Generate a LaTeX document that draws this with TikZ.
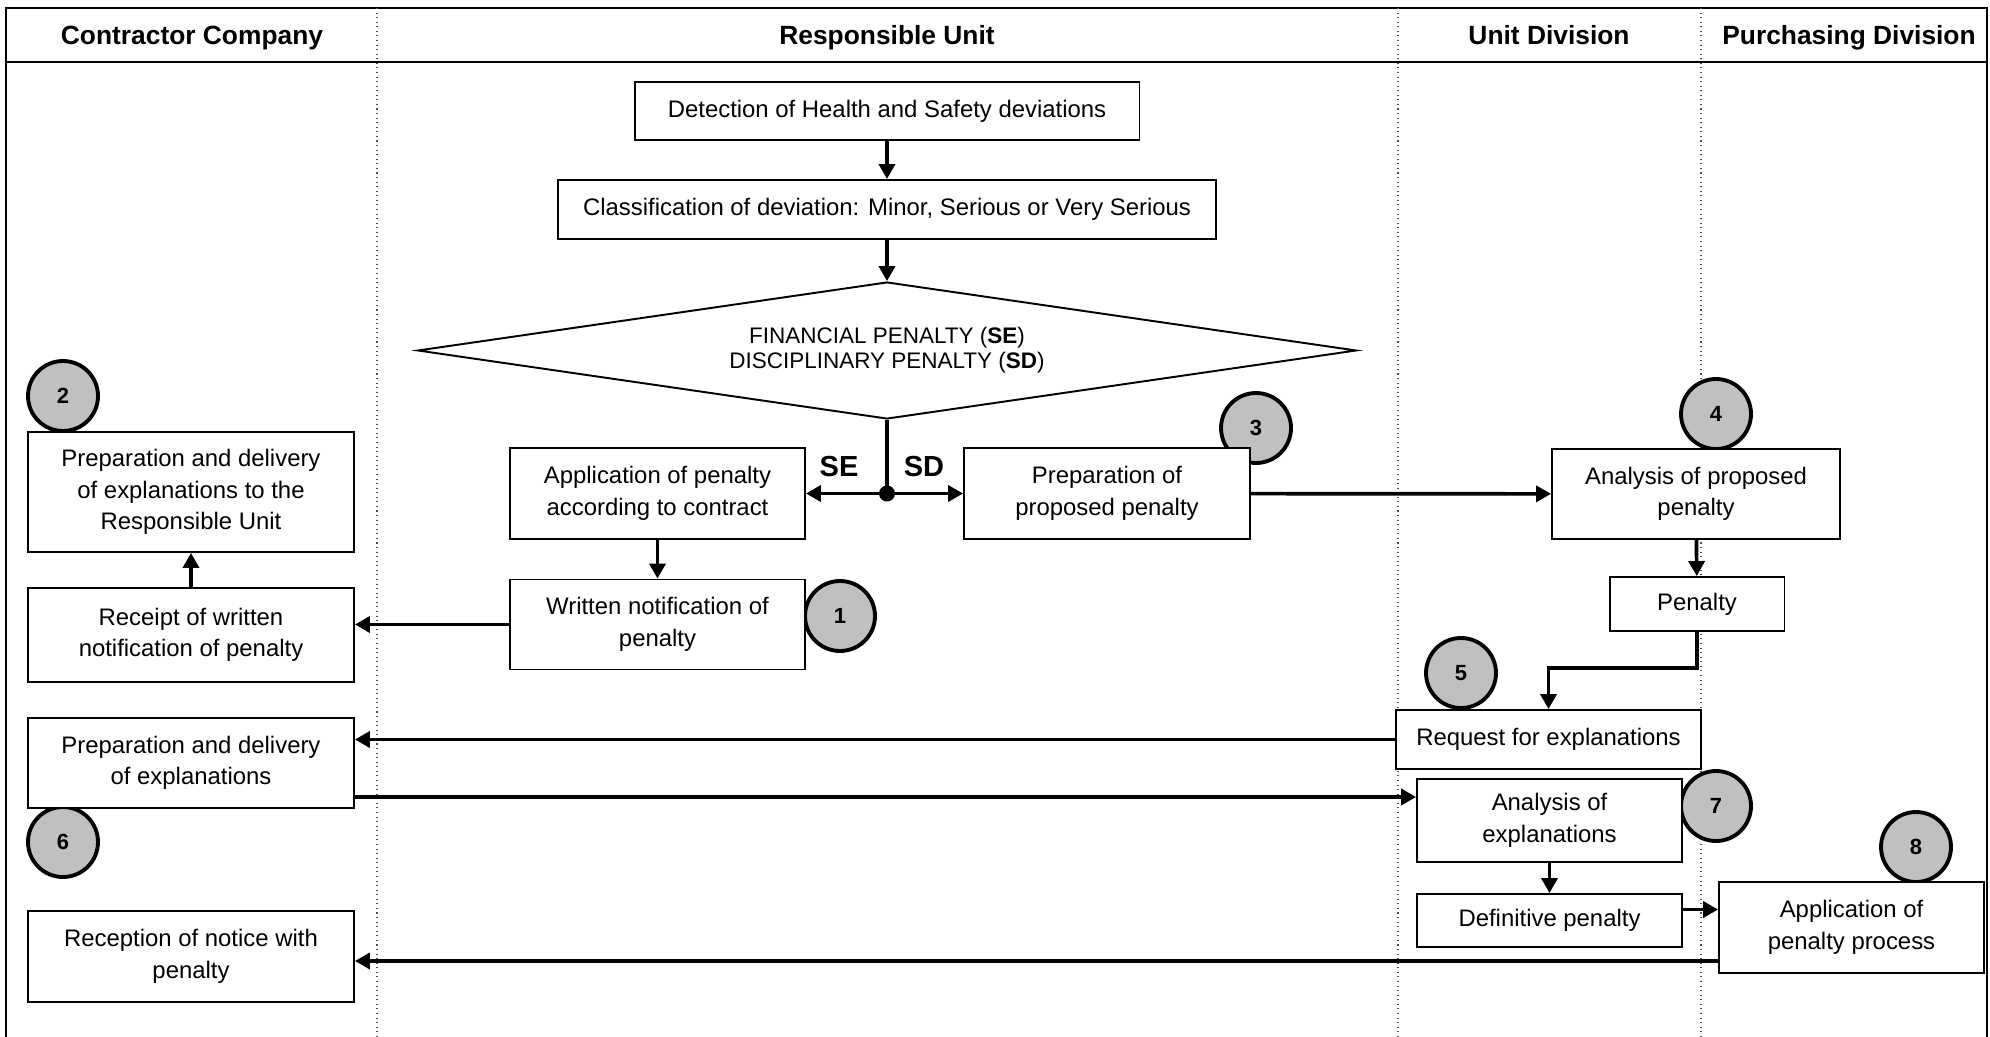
\documentclass[tikz,border=0pt]{standalone}
\usepackage{fontspec}
\setmainfont{Liberation Sans}
\usepackage{tikz}
\usetikzlibrary{arrows.meta, shapes.geometric, positioning, calc}
\definecolor{stepgray}{HTML}{C0C0C0}

\begin{document}
\begin{tikzpicture}[x=0.02cm, y=-0.02cm,
    box/.style={draw, rectangle, line width=1.1pt, fill=white, align=center, inner sep=2pt, font=\fontsize{13.6}{18}\selectfont},
    num/.style={draw, circle, line width=2.2pt, fill=stepgray, minimum size=1.4cm, inner sep=0pt, font=\fontsize{12.5}{14}\selectfont\bfseries},
    flow/.style={->, >={Triangle[length=0.3cm, width=0.32cm]}, line width=2.1pt},
    lane/.style={anchor=base, font=\fontsize{15}{18}\selectfont\bfseries}]
  \useasboundingbox (0,0) rectangle (1990,1037);
  \fill[white] (0,0) rectangle (1990,1037);
  \draw[line width=1.6pt] (6,1037) -- (6,8) -- (1987,8) -- (1987,1037);
  \draw[line width=1.6pt] (6,62) -- (1987,62);
  \foreach \x in {377,1398,1701}
    \draw[dotted, line width=0.6pt, black!70] (\x,8) -- (\x,1037);
  \node[lane] (hcc) at (192,45) {Contractor Company};
  \node[lane] (hru) at (887,45) {Responsible Unit};
  \node[lane] (hud) at (1549,45) {Unit Division};
  \node[lane] (hpd) at (1849,45) {Purchasing Division};

  \node[num] (n1) at (840,616) {1};
  \node[num] (n2) at (63,396) {2};
  \node[num] (n3) at (1256,428) {3};
  \node[num] (n4) at (1716,414) {4};
  \node[num] (n5) at (1461,673) {5};
  \node[num] (n6) at (63,842) {6};
  \node[num] (n7) at (1716,806) {7};
  \node[num] (n8) at (1916,847) {8};

  \node[box, minimum width=10.1cm, minimum height=1.16cm] (det) at (887,111) {Detection of Health and Safety deviations};
  \node[box, minimum width=13.18cm, minimum height=1.18cm] (cls) at (887,209.5) {Classification of deviation: Minor, Serious or Very Serious};
  \node[draw, diamond, aspect=6.85, line width=1.1pt, minimum width=18.78cm, minimum height=2.74cm, inner sep=0pt, align=center,
    font=\fontsize{12.8}{14.2}\selectfont] (dia) at (887,350.5) {FINANCIAL PENALTY (\textbf{SE})\\DISCIPLINARY PENALTY (\textbf{SD})};
  \node[box, minimum width=5.9cm, minimum height=1.82cm] (se) at (657.5,493.5) {Application of penalty\\according to contract};
  \node[box, minimum width=5.72cm, minimum height=1.82cm] (sd) at (1107,493.5) {Preparation of\\proposed penalty};
  \node[box, minimum width=5.9cm, minimum height=1.8cm] (wn) at (657.5,624.5) {Written notification of\\penalty};
  \node[circle, fill, inner sep=0pt, minimum size=0.32cm] (jn) at (dia.south |- se.east) {};
  \node[font=\fontsize{16.5}{18}\selectfont\bfseries] (lse) at (839,467) {SE};
  \node[font=\fontsize{16.5}{18}\selectfont\bfseries] (lsd) at (924,467) {SD};

  \node[box, minimum width=5.76cm, minimum height=1.8cm] (aprop) at (1696,494) {Analysis of proposed\\penalty};
  \node[box, minimum width=3.5cm, minimum height=1.08cm] (pen) at (1697,604) {Penalty};
  \node[box, minimum width=6.1cm, minimum height=1.18cm] (req) at (1548.5,739.5) {Request for explanations};
  \node[box, minimum width=5.3cm, minimum height=1.66cm] (aexp) at (1549.5,820.5) {Analysis of\\explanations};
  \node[box, minimum width=5.3cm, minimum height=1.06cm] (defp) at (1549.5,920.5) {Definitive penalty};
  \node[box, minimum width=5.3cm, minimum height=1.82cm] (appp) at (1851.5,927.5) {Application of\\penalty process};

  \node[box, minimum width=6.52cm, minimum height=2.4cm] (pru) at (191,492) {Preparation and delivery\\of explanations to the\\Responsible Unit};
  \node[box, minimum width=6.52cm, minimum height=1.88cm] (rcp) at (191,635) {Receipt of written\\notification of penalty};
  \node[box, minimum width=6.52cm, minimum height=1.8cm] (pexp) at (191,763) {Preparation and delivery\\of explanations};
  \node[box, minimum width=6.52cm, minimum height=1.82cm] (rnp) at (191,956.5) {Reception of notice with\\penalty};

  \draw[flow] (det) -- (cls);
  \draw[flow] (cls) -- (dia);
  \draw[line width=2.1pt] (dia.south) -- (jn.center);
  \draw[flow] (jn.center) -- (se.east);
  \draw[flow] (jn.center) -- (sd.west);
  \draw[flow] (se) -- (wn);
  \draw[flow] (wn.west) -- (wn.west -| rcp.east);
  \draw[flow] (rcp) -- (pru);
  \draw[flow] (sd) -- (aprop);
  \draw[flow] (aprop) -- (pen);
  \draw[flow] (pen.south) -- ++(0,36) -| (req.north);
  \draw[flow] (req.west) -- (req.west -| pexp.east);
  \draw[flow] ([yshift=0.24cm]pexp.south east) -- ([yshift=0.24cm]pexp.south east -| aexp.west);
  \draw[flow] (aexp) -- (defp);
  \draw[flow] ([yshift=0.22cm]defp.east) -- ([yshift=0.22cm]defp.east -| appp.west);
  \draw[flow] ([yshift=-0.67cm]appp.west) -- ([yshift=-0.67cm]appp.west -| rnp.east);
\end{tikzpicture}
\end{document}
